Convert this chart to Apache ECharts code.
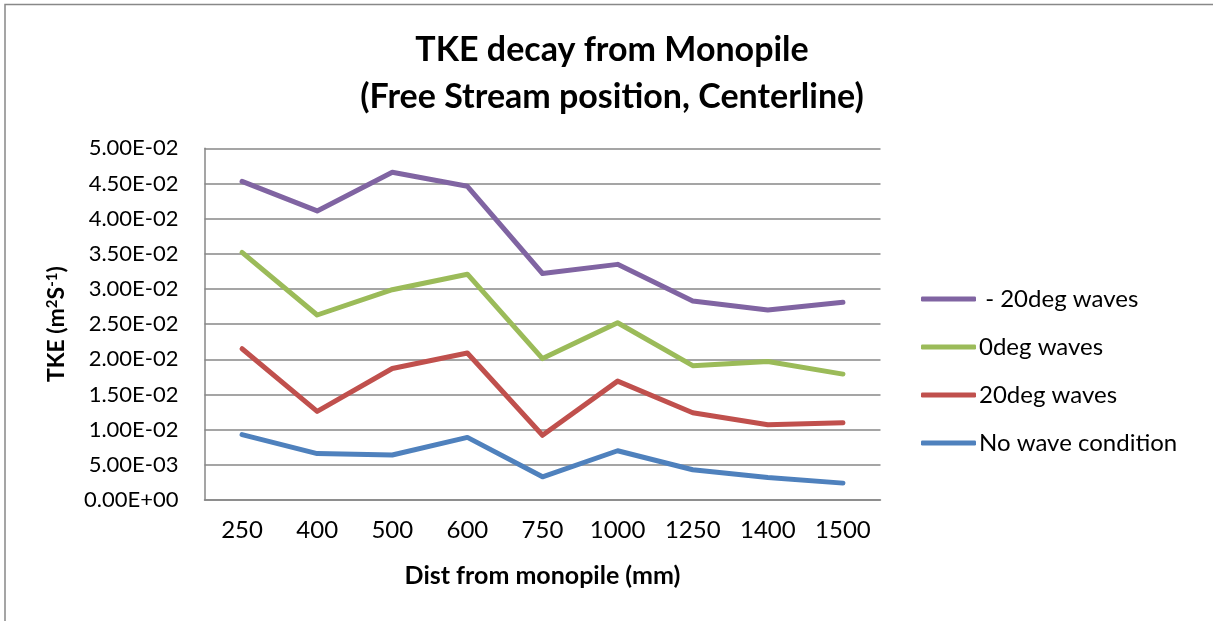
<!DOCTYPE html>
<html>
<head>
<meta charset="utf-8">
<script src="https://cdn.jsdelivr.net/npm/echarts@6/dist/echarts.min.js"></script>
<style>
  html, body { margin: 0; padding: 0; background: #fff; }
  #main { width: 1213px; height: 621px; }
</style>
</head>
<body>
<div id="main"></div>
<script>
var distances = ['250', '400', '500', '600', '750', '1000', '1250', '1400', '1500'];
var minus20 = [0.0453, 0.0411, 0.0466, 0.0446, 0.0322, 0.0335, 0.0283, 0.0270, 0.0281];
var deg0 = [0.0352, 0.0263, 0.0299, 0.0321, 0.0201, 0.0252, 0.0191, 0.0197, 0.0179];
var deg20 = [0.0215, 0.0126, 0.0187, 0.0209, 0.0092, 0.0169, 0.0124, 0.0107, 0.0110];
var noWave = [0.0093, 0.0066, 0.0064, 0.0089, 0.0033, 0.0070, 0.0043, 0.0032, 0.0024];

var font = 'Lato, Carlito, "Noto Sans", sans-serif';
var gridGray = '#878787';

function sciLabel(v) {
  var s = Number(v).toExponential(2).toUpperCase();
  return s.replace(/E([+-])(\d)$/, 'E$10$2');
}

function lineSeries(name, data, color) {
  return {
    name: name,
    type: 'line',
    data: data,
    showSymbol: false,
    symbol: 'none',
    color: color,
    lineStyle: { width: 5, color: color, cap: 'round', join: 'round' }
  };
}

var chart = echarts.init(document.getElementById('main'));
var option = {
  backgroundColor: '#fff',
  animation: false,
  textStyle: { fontFamily: font },
  title: {
    text: 'TKE decay from Monopile\n(Free Stream position, Centerline)',
    left: 607,
    top: 22,
    textAlign: 'center',
    textStyle: { fontFamily: font, fontSize: 34, fontWeight: 'bold', color: '#000', lineHeight: 47 }
  },
  graphic: [{
    type: 'rect',
    shape: { x: 5, y: 4.5, width: 1300, height: 700 },
    style: { fill: 'none', stroke: '#888', lineWidth: 1.5 },
    silent: true
  }],
  legend: {
    orient: 'vertical',
    left: 921,
    top: 287,
    padding: 0,
    itemWidth: 55,
    itemHeight: 5,
    itemGap: 24,
    icon: 'roundRect',
    data: [' - 20deg waves', '0deg waves', '20deg waves', 'No wave condition'],
    textStyle: { fontFamily: font, fontSize: 24, color: '#000', lineHeight: 24, padding: [0, 0, 0, -2] }
  },
  grid: { left: 204.5, right: 332.5, top: 148.3, bottom: 121 },
  xAxis: {
    type: 'category',
    data: distances,
    boundaryGap: true,
    name: 'Dist from monopile (mm)',
    nameLocation: 'middle',
    nameGap: 63,
    nameTextStyle: { fontFamily: font, fontSize: 25, fontWeight: 'bold', color: '#000' },
    axisLine: { lineStyle: { color: gridGray, width: 1.5 } },
    axisTick: { show: false },
    axisLabel: { fontFamily: font, fontSize: 24, color: '#000', margin: 18, interval: 0 },
    splitLine: { show: false }
  },
  yAxis: {
    type: 'value',
    min: 0,
    max: 0.05,
    interval: 0.005,
    name: '{a|TKE (m}{s|2}{a|S}{s|-1}{a|)}',
    nameLocation: 'middle',
    nameGap: 135,
    nameTextStyle: {
      rich: {
        a: { fontFamily: font, fontSize: 23, fontWeight: 'bold', color: '#000' },
        s: { fontFamily: font, fontSize: 15, fontWeight: 'bold', color: '#000', padding: [0, 0, 10, 0] }
      }
    },
    axisLine: { show: true, lineStyle: { color: gridGray, width: 1.5 } },
    axisTick: { show: false },
    axisLabel: { fontFamily: font, fontSize: 22, color: '#000', margin: 26, formatter: sciLabel },
    splitLine: { lineStyle: { color: gridGray, width: 1.5 } }
  },
  series: [
    lineSeries('No wave condition', noWave, '#4F81BD'),
    lineSeries('20deg waves', deg20, '#C0504D'),
    lineSeries('0deg waves', deg0, '#9BBB59'),
    lineSeries(' - 20deg waves', minus20, '#8064A2')
  ]
};
chart.setOption(option);
</script>
</body>
</html>
